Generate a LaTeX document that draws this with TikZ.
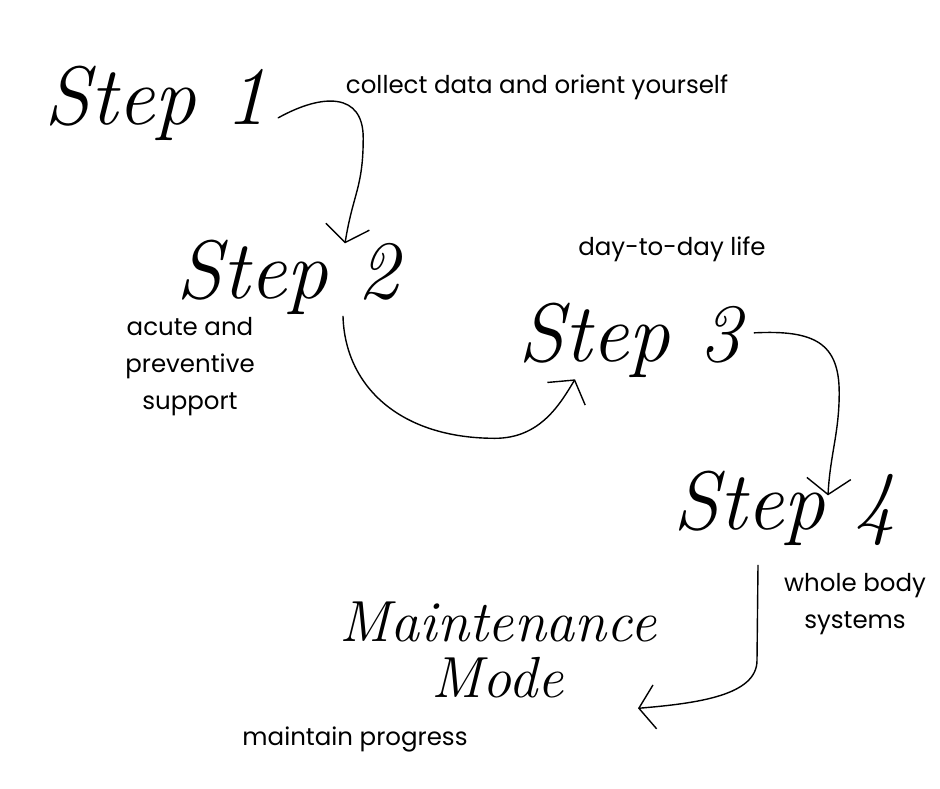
\documentclass[tikz,border=0pt]{standalone}
\usepackage{fontspec}
\newfontfamily\labelfont{Poppins}
\usetikzlibrary{arrows.meta,positioning}

\begin{document}
\begin{tikzpicture}[
x=1pt, y=-1pt,
stepname/.style={
font=\itshape\fontsize{83}{83}\selectfont,
inner sep=0pt,
anchor=base
},
note/.style={
font=\labelfont\fontsize{24.5}{37}\selectfont,
align=center,
inner sep=0pt
},
arrow/.style={-{Straight Barb[length=16pt,width=44pt]},line width=1.4pt,line cap=round,line join=round}
]
\useasboundingbox[fill=white] (0,0) rectangle (940,788);

\node[stepname] (s1) at (156,124) {Step 1};
\node[stepname] (s2) at (288,298) {Step 2};
\node[stepname] (s3) at (630,361) {Step 3};
\node[stepname] (s4) at (785,529) {Step 4};
\node[stepname, anchor=center, align=center, font=\itshape\fontsize{58}{56}\selectfont] (maint) at (498,650) {Maintenance\\Mode};

\node[note] (collect) at (537,87) {collect data and orient yourself};
\node[note] (daylife) at (672,249) {day-to-day life};
\node[note] (acute) at (190,367) {acute and\\preventive\\support};
\node[note] (whole) at (855,604) {whole body\\systems};
\node[note] (progress) at (355,739) {maintain progress};

\draw[arrow] ([shift={(11,15)}]s1.east) .. controls +(45,-25) and +(0,-45) .. ++(85,20)
  .. controls +(0,50) and +(8,-50) .. ([shift={(57,4)}]s2.north);
\draw[arrow] ([shift={(55,2)}]s2.south) .. controls +(2,70) and +(-95,0) .. ++(152,122)
  .. controls +(45,0) and +(-15,25) .. ([shift={(-55,2)}]s3.south);
\draw[arrow] ([shift={(13,-7)}]s3.east) .. controls +(60,-3) and +(0,-50) .. ++(85,60)
  .. controls +(0,40) and +(2,-40) .. ([shift={(43,25)}]s4.north);
\draw[arrow] ([shift={(-27,20)}]s4.south) -- ++(-1,95) .. controls +(0,35) and +(60,-5) .. ([shift={(140,10)}]maint.south);

\end{tikzpicture}
\end{document}
